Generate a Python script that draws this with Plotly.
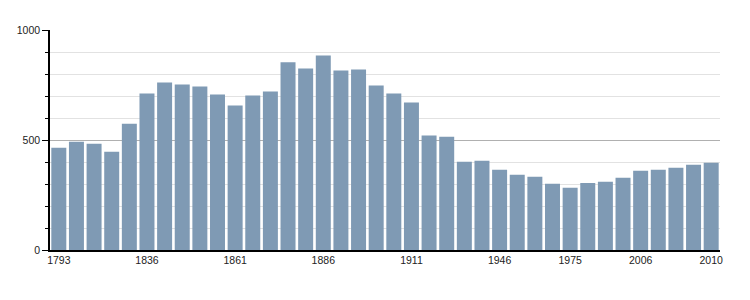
import plotly.graph_objects as go

years = [1793, 1800, 1806, 1821, 1831, 1836, 1841, 1846, 1851, 1856, 1861, 1866,
         1872, 1876, 1881, 1886, 1891, 1896, 1901, 1906, 1911, 1921, 1926, 1931,
         1936, 1946, 1954, 1962, 1968, 1975, 1982, 1990, 1999, 2006, 2007, 2008,
         2009, 2010]
population = [465, 492, 483, 447, 574, 711, 761, 752, 743, 707, 657, 702,
              720, 853, 825, 884, 816, 821, 748, 711, 670, 520, 515, 401,
              406, 365, 342, 333, 301, 283, 305, 310, 328, 360, 365, 374,
              388, 397]
labeled_years = [1793, 1836, 1861, 1886, 1911, 1946, 1975, 2006, 2010]

cats = [str(y) for y in years]

fig = go.Figure(go.Bar(x=cats, y=population, marker=dict(color="#7f9ab4", line=dict(width=0)),
                       hoverinfo="x+y"))

fig.update_layout(
    width=750, height=300,
    margin=dict(l=50, r=30, t=30, b=50),
    paper_bgcolor="white", plot_bgcolor="white",
    bargap=0.15,
    showlegend=False,
    font=dict(family="Liberation Sans, Arial, sans-serif", size=10, color="#222222"),
)
fig.update_xaxes(
    type="category",
    range=[-0.5, len(cats) - 0.5],
    tickmode="array",
    tickvals=[str(y) for y in labeled_years],
    ticktext=[str(y) for y in labeled_years],
    showline=True, linecolor="black", linewidth=1.5,
    ticks="", showgrid=False,
    tickfont=dict(size=10.5, color="#222222"),
)
fig.update_yaxes(
    range=[0, 1000],
    tick0=0, dtick=500,
    showline=True, linecolor="black", linewidth=1.5,
    ticks="outside", ticklen=6, tickcolor="black", tickwidth=1,
    showgrid=True, gridcolor="#b0b0b0", gridwidth=1,
    zeroline=False,
    tickfont=dict(size=10.5, color="#222222"),
    minor=dict(dtick=100, ticks="outside", ticklen=3, tickcolor="black",
               showgrid=True, gridcolor="#e2e2e2", gridwidth=1),
)

fig.write_html("out.html")
